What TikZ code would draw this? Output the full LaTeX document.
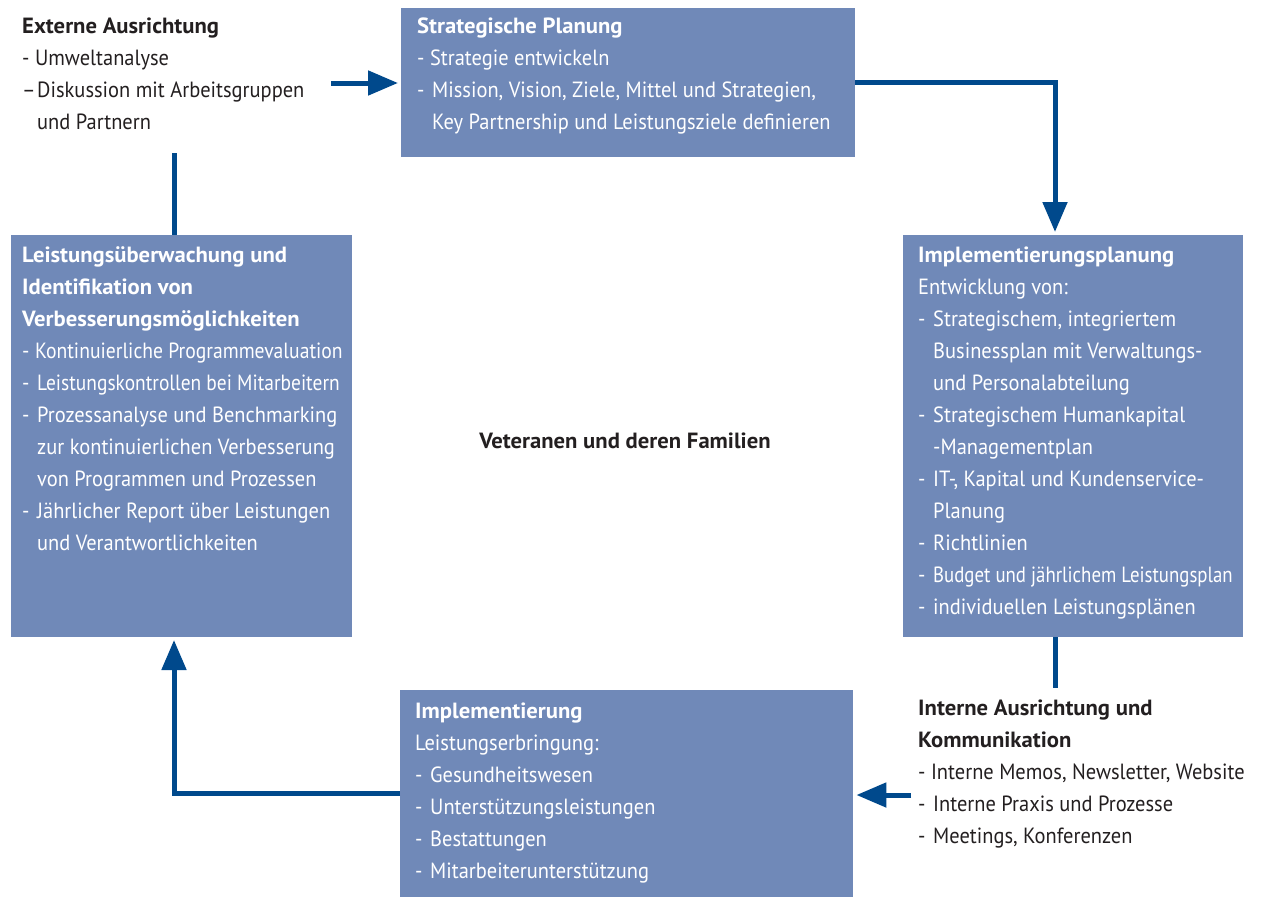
\documentclass[tikz,border=0pt]{standalone}
\usepackage{fontspec}
\setmainfont{PT Sans}[FakeStretch=0.93, BoldFeatures={FakeStretch=1.03}]
\usetikzlibrary{arrows.meta}
\definecolor{boxblue}{RGB}{112,137,184}
\definecolor{arrowblue}{RGB}{0,73,140}
\definecolor{textgray}{RGB}{35,31,32}
\newcommand{\bitem}[1]{\makebox[15pt][l]{-}#1}
\newcommand{\bcont}[1]{\hspace*{15pt}#1}
\newcommand{\squeeze}[2]{\scalebox{#1}[1]{#2}}

\begin{document}
\begin{tikzpicture}[x=1pt,y=-1pt,
  box/.style={fill=boxblue, inner sep=0pt, anchor=north west},
  txt/.style={anchor=base west, inner sep=0pt, align=left, font=\fontsize{22pt}{32pt}\selectfont},
  intxt/.style={txt, text=white},
  outtxt/.style={txt, text=textgray},
  flow/.style={draw=arrowblue, line width=5pt, shorten >=3pt, -{Triangle[length=30pt,width=24pt]}},
  link/.style={draw=arrowblue, line width=5pt}]
 \useasboundingbox (0,0) rectangle (1264,897);

 % boxes
 \node[box, minimum width=454pt, minimum height=149pt] (sp) at (401,8) {};
 \node[box, minimum width=341pt, minimum height=402pt] (lv) at (11,235) {};
 \node[box, minimum width=340pt, minimum height=402pt] (ip) at (903,235) {};
 \node[box, minimum width=453pt, minimum height=207pt] (impl) at (400,690) {};

 % texts (placed at the baseline of their last line)
 \node[outtxt] (ext) at (22,129) {\textbf{Externe Ausrichtung}\\
   - Umweltanalyse\\
   \makebox[15pt][l]{--}Diskussion mit Arbeitsgruppen\\
   \bcont{und Partnern}};
 \node[intxt] (sptxt) at (417,129) {\textbf{Strategische Planung}\\
   - Strategie entwickeln\\
   \bitem{Mission, Vision, Ziele, Mittel und Strategien,}\\
   \bcont{Key Partnership und Leistungsziele definieren}};
 \node[intxt] (lvtxt) at (22,550) {\textbf{Leistungsüberwachung und}\\
   \textbf{Identifikation von}\\
   \textbf{Verbesserungsmöglichkeiten}\\
   - \squeeze{0.96}{Kontinuierliche Programmevaluation}\\
   \bitem{\squeeze{0.95}{Leistungskontrollen bei Mitarbeitern}}\\
   \bitem{Prozessanalyse und Benchmarking}\\
   \bcont{zur kontinuierlichen Verbesserung}\\
   \bcont{von Programmen und Prozessen}\\
   \bitem{Jährlicher Report über Leistungen}\\
   \bcont{und Verantwortlichkeiten}};
 \node[intxt] (iptxt) at (918,614) {\textbf{Implementierungsplanung}\\
   Entwicklung von:\\
   \bitem{Strategischem, integriertem}\\
   \bcont{Businessplan mit Verwaltungs-}\\
   \bcont{und Personalabteilung}\\
   \bitem{Strategischem Humankapital}\\
   \bcont{-Managementplan}\\
   \bitem{IT-, Kapital und Kundenservice-}\\
   \bcont{Planung}\\
   \bitem{Richtlinien}\\
   \bitem{\squeeze{0.92}{Budget und jährlichem Leistungsplan}}\\
   \bitem{individuellen Leistungsplänen}};
 \node[intxt] (impltxt) at (415,878) {\textbf{Implementierung}\\
   Leistungserbringung:\\
   \bitem{Gesundheitswesen}\\
   \bitem{Unterstützungsleistungen}\\
   \bitem{Bestattungen}\\
   \bitem{Mitarbeiterunterstützung}};
 \node[outtxt] (int) at (918,843) {\textbf{Interne Ausrichtung und}\\
   \textbf{Kommunikation}\\
   - Interne Memos, Newsletter, Website\\
   \bitem{Interne Praxis und Prozesse}\\
   \bitem{Meetings, Konferenzen}};
 \node[outtxt, anchor=base, font=\bfseries\fontsize{22pt}{32pt}\selectfont] (vet) at (625,448) {Veteranen und deren Familien};

 % connectors
 \coordinate (extout) at (331,83);
 \coordinate (ipin) at (1055,235);
 \coordinate (ipout) at (1055,688);
 \coordinate (intout) at (911,795);
 \coordinate (lvin) at (174,637);
 \coordinate (lvtop) at (174,153);
 \draw[flow] (extout) -- (extout -| sp.west);
 \draw[flow] (sp.east) -| (ipin);
 \draw[link] (ip.south -| ipin) -- (ipout);
 \draw[flow] (intout) -- (intout -| impl.east);
 \draw[flow] (impl.west) -| (lvin);
 \draw[link] (lvtop) -- (lvtop |- lv.north);

\end{tikzpicture}
\end{document}
